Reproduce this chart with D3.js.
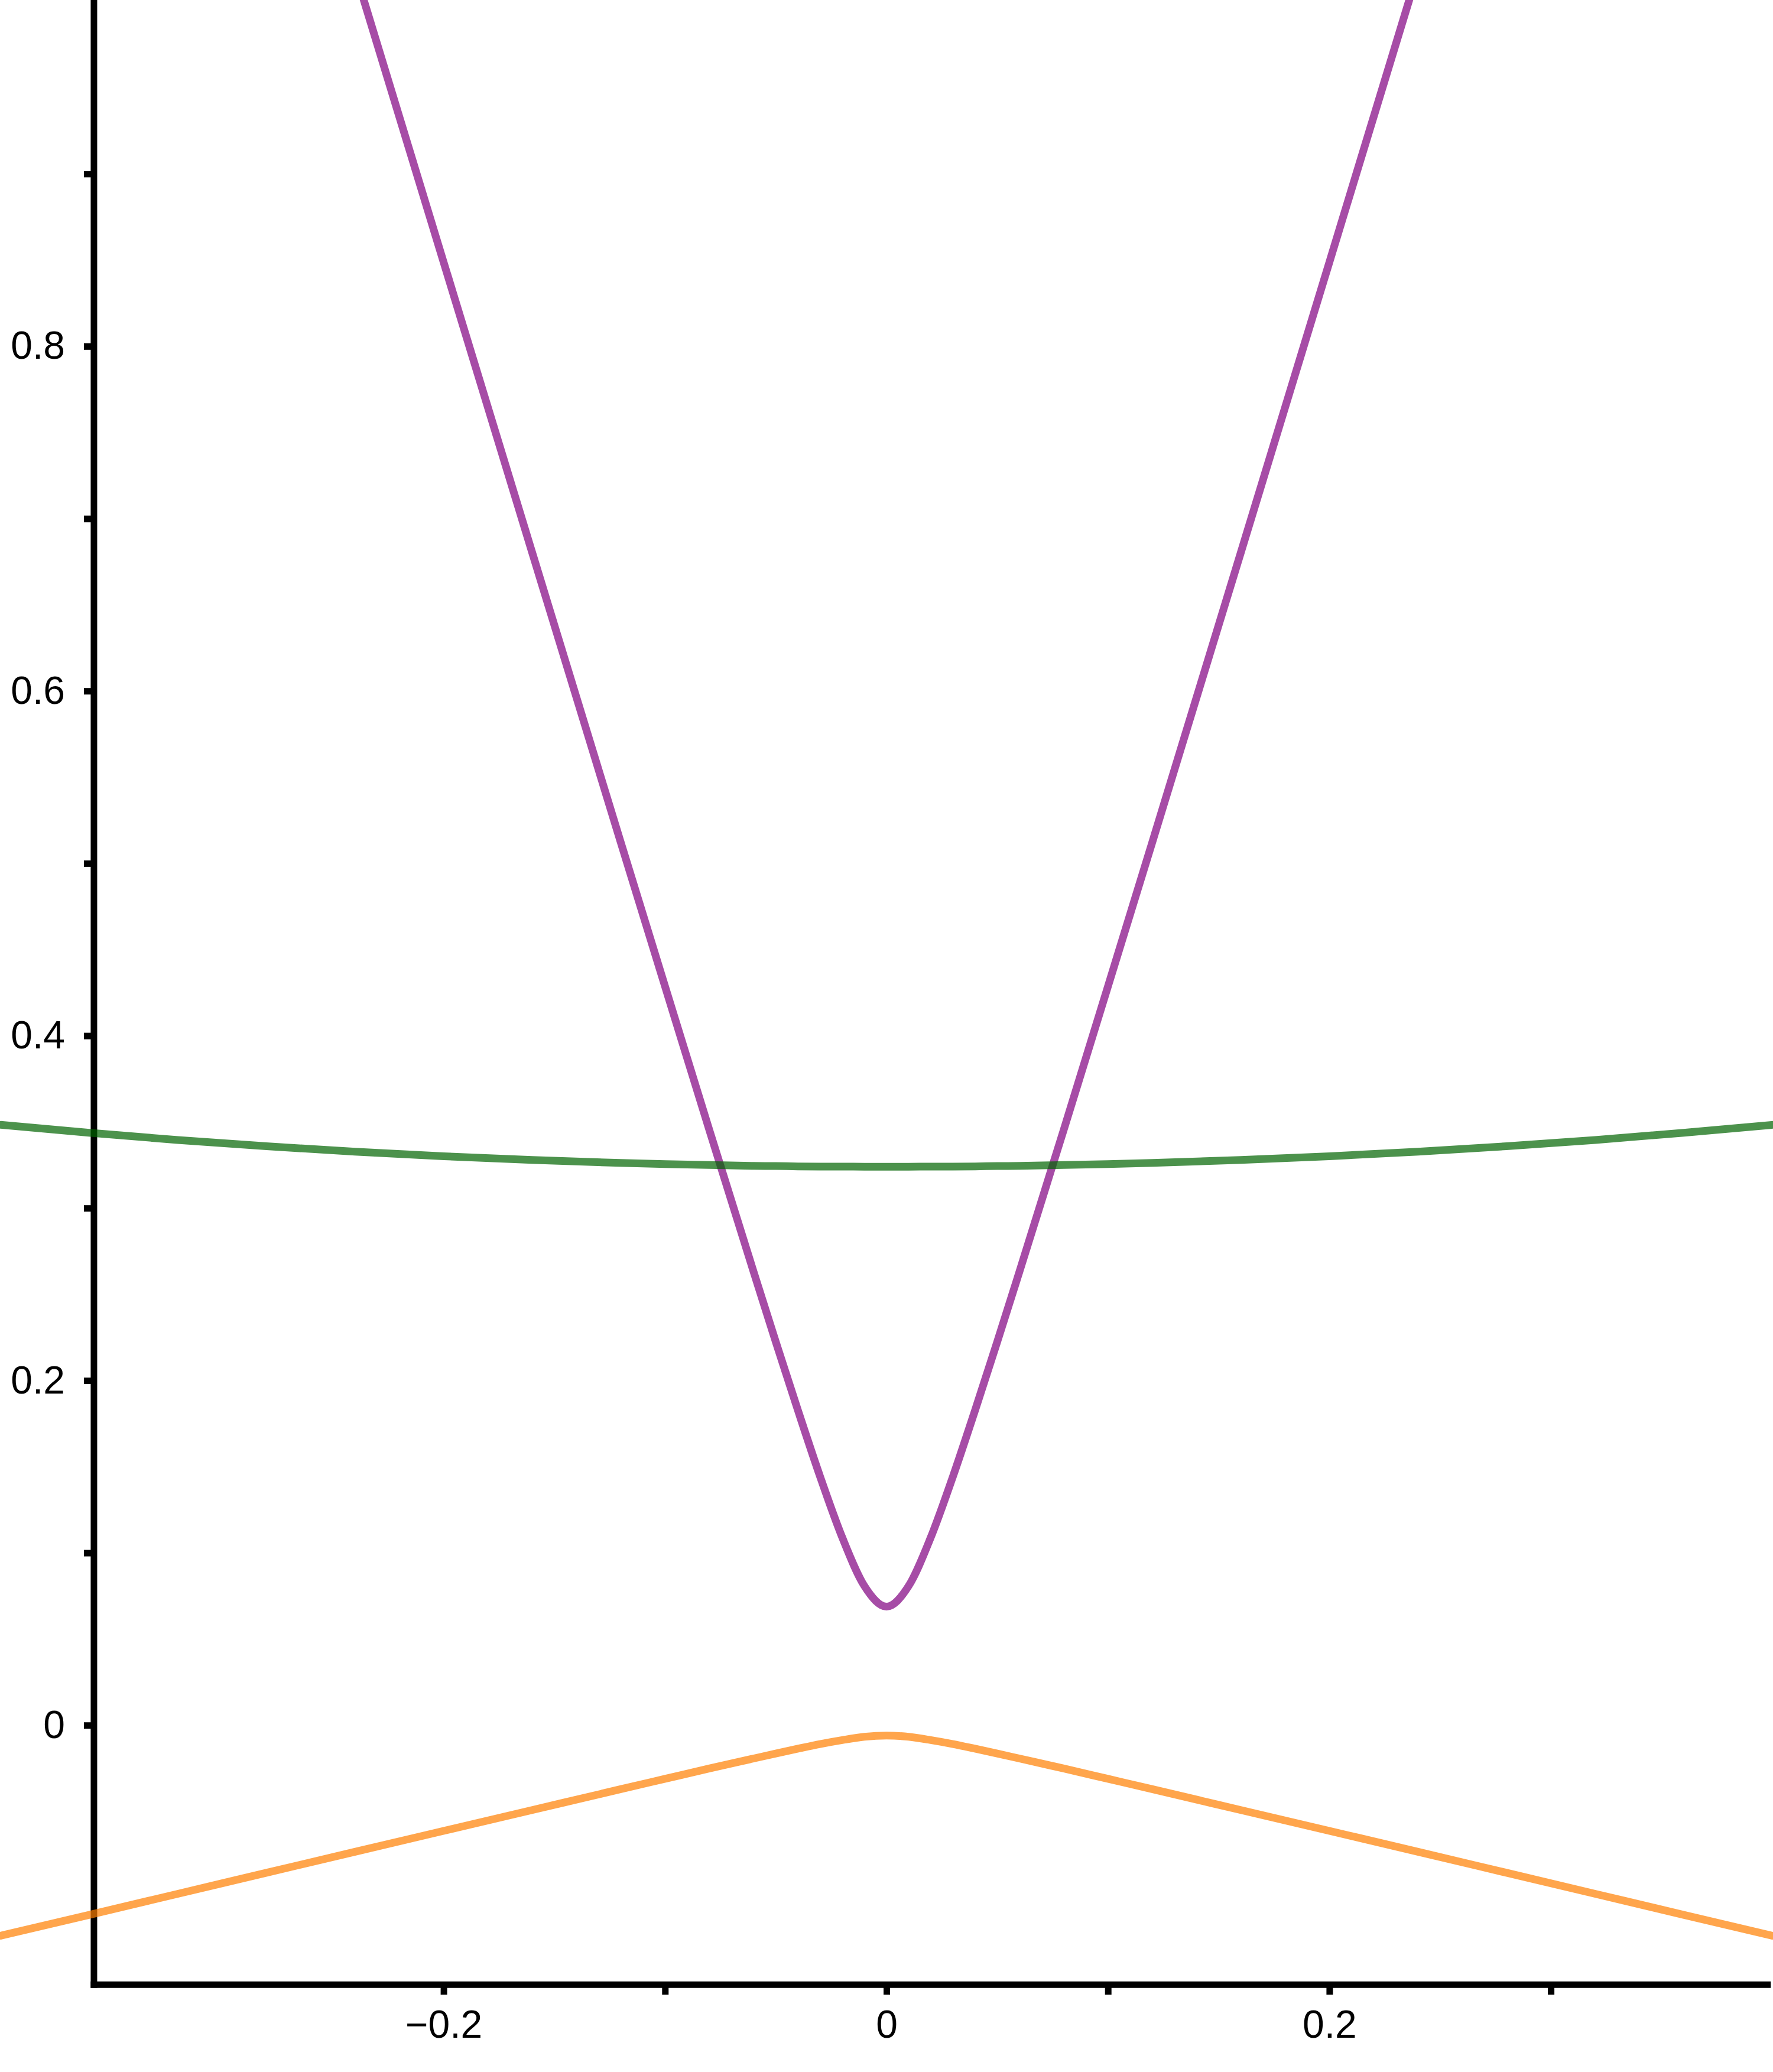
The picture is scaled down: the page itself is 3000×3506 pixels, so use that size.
<!DOCTYPE html>
<html>
<head>
<meta charset="utf-8">
<script src="https://cdn.jsdelivr.net/npm/d3@7"></script>
<style>
  html, body { margin: 0; padding: 0; background: #ffffff; }
  svg { display: block; }
  text { font-family: "Liberation Sans", Arial, sans-serif; }
</style>
</head>
<body>
<script>
// ---- data ----
const xValues = [-0.40, -0.36, -0.32, -0.28, -0.24, -0.20, -0.16, -0.12, -0.10, -0.08, -0.06, -0.05, -0.04, -0.03, -0.02, -0.01,
                 0.00, 0.01, 0.02, 0.03, 0.04, 0.05, 0.06, 0.08, 0.10, 0.12, 0.16, 0.20, 0.24, 0.28, 0.32, 0.36, 0.40];

const purpleBand = [null, null, null, null, 1.0175, 0.8488, 0.6803, 0.5122, 0.4286, 0.3453, 0.2630, 0.2224, 0.1827, 0.1443, 0.1090, 0.0808,
                    0.0688, 0.0808, 0.1090, 0.1443, 0.1827, 0.2224, 0.2630, 0.3453, 0.4286, 0.5122, 0.6803, 0.8488, 1.0175, null, null, null, null];

const greenBand = [0.3483, 0.3437, 0.3395, 0.3359, 0.3327, 0.3301, 0.3279, 0.3262, 0.3255, 0.3250, 0.3245, 0.3244, 0.3242, 0.3241, 0.3241, 0.3240,
                   0.3240, 0.3240, 0.3241, 0.3241, 0.3242, 0.3244, 0.3245, 0.3250, 0.3255, 0.3262, 0.3279, 0.3301, 0.3327, 0.3359, 0.3395, 0.3437, 0.3483];

const orangeBand = [-0.1221, -0.1100, -0.0978, -0.0856, -0.0734, -0.0613, -0.0492, -0.0371, -0.0311, -0.0251, -0.0193, -0.0164, -0.0136, -0.0109, -0.0086, -0.0067,
                    -0.0060, -0.0067, -0.0086, -0.0109, -0.0136, -0.0164, -0.0193, -0.0251, -0.0311, -0.0371, -0.0492, -0.0613, -0.0734, -0.0856, -0.0978, -0.1100, -0.1221];

const yTickValues = [0, 0.1, 0.2, 0.3, 0.4, 0.5, 0.6, 0.7, 0.8, 0.9];
const yTickLabels = ["0", "", "0.2", "", "0.4", "", "0.6", "", "0.8", ""];
const xTickValues = [-0.2, -0.1, 0, 0.1, 0.2, 0.3];
const xTickLabels = ["\u22120.2", "", "0", "", "0.2", ""];

const xAxisExtent = [-0.3579, 0.3993];   // where the drawn axis lines sit
const yAxisExtent = [-0.1505, 1.001];

const series = [
  { name: "purple", color: "#800080", values: purpleBand },
  { name: "green",  color: "#006400", values: greenBand },
  { name: "orange", color: "#ff7f00", values: orangeBand }
];

// ---- layout ----
const W = 3000, H = 3506;
const svg = d3.select("body").append("svg").attr("width", W).attr("height", H);

const x = d3.scaleLinear().domain([-0.4, 0.4]).range([1.2, 2998.8]);
const y = d3.scaleLinear().domain(yAxisExtent).range([3358.2, -0.4]);

const axisColor = "#000";
const axisWidth = 11;

// y axis
const yAxis = d3.axisLeft(y)
  .tickValues(yTickValues)
  .tickSize(17)
  .tickSizeOuter(0)
  .tickPadding(32)
  .tickFormat((d, i) => yTickLabels[i]);

const gy = svg.append("g")
  .attr("transform", `translate(${x(xAxisExtent[0])},0)`)
  .call(yAxis);
gy.select(".domain").remove();
gy.selectAll(".tick line").attr("stroke", axisColor).attr("stroke-width", axisWidth);
gy.selectAll(".tick text").attr("font-size", 66).attr("fill", "#000")
  .attr("font-family", "'Liberation Sans', Arial, sans-serif");

// x axis
const xAxis = d3.axisBottom(x)
  .tickValues(xTickValues)
  .tickSize(17)
  .tickSizeOuter(0)
  .tickPadding(26)
  .tickFormat((d, i) => xTickLabels[i]);

const gx = svg.append("g")
  .attr("transform", `translate(0,${y(yAxisExtent[0])})`)
  .call(xAxis);
gx.select(".domain").remove();
gx.selectAll(".tick line").attr("stroke", axisColor).attr("stroke-width", axisWidth);
gx.selectAll(".tick text").attr("font-size", 66).attr("fill", "#000")
  .attr("font-family", "'Liberation Sans', Arial, sans-serif");

// axis lines
svg.append("line")
  .attr("x1", x(xAxisExtent[0])).attr("x2", x(xAxisExtent[0]))
  .attr("y1", y(yAxisExtent[1])).attr("y2", y(yAxisExtent[0]) + axisWidth / 2)
  .attr("stroke", axisColor).attr("stroke-width", axisWidth);
svg.append("line")
  .attr("x1", x(xAxisExtent[0]) - axisWidth / 2).attr("x2", x(xAxisExtent[1]))
  .attr("y1", y(yAxisExtent[0])).attr("y2", y(yAxisExtent[0]))
  .attr("stroke", axisColor).attr("stroke-width", axisWidth);

// curves
const line = d3.line()
  .defined(d => d[1] !== null)
  .x(d => x(d[0]))
  .y(d => y(d[1]))
  .curve(d3.curveMonotoneX);

series.forEach(s => {
  const pts = xValues.map((xv, i) => [xv, s.values[i]]);
  svg.append("path")
    .datum(pts)
    .attr("d", line)
    .attr("fill", "none")
    .attr("stroke", s.color)
    .attr("stroke-opacity", 0.7)
    .attr("stroke-width", 13)
    .attr("stroke-linecap", "round")
    .attr("stroke-linejoin", "round");
});
</script>
</body>
</html>
